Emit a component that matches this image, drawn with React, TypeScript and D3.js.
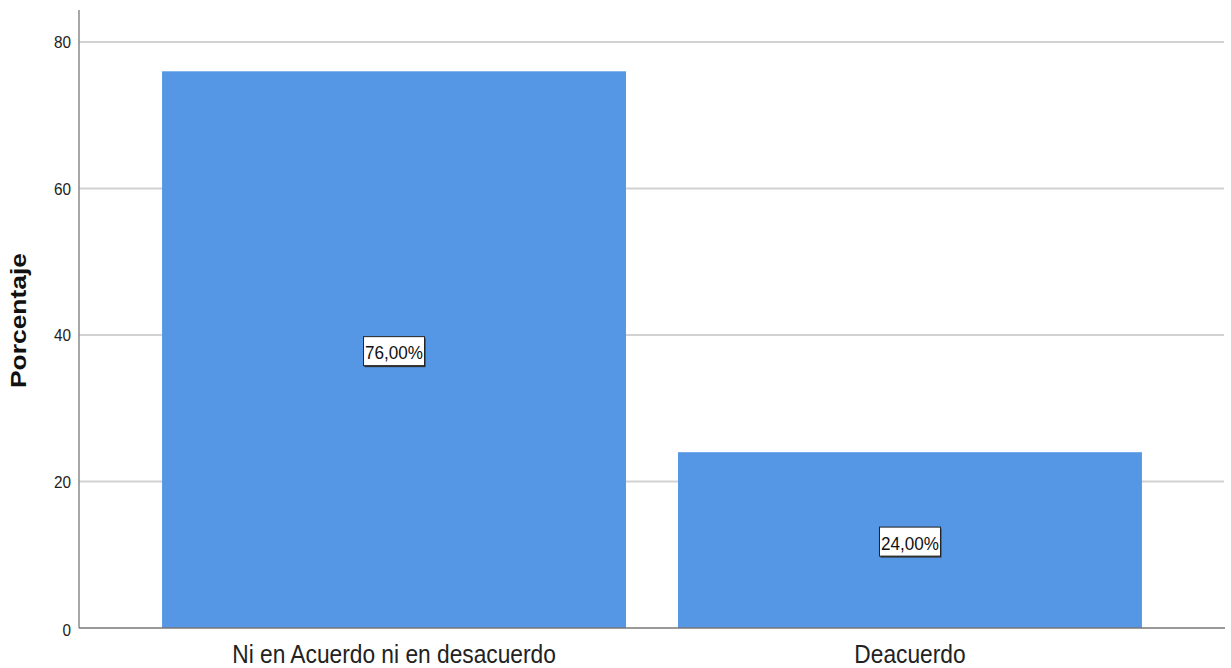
import React from "react";
import * as d3 from "d3";

const categories = ["Ni en Acuerdo ni en desacuerdo", "Deacuerdo"];
const percentages = [76, 24];
const valueLabels = ["76,00%", "24,00%"];
const yTicks = [0, 20, 40, 60, 80];

export default function App() {
  const width = 1231;
  const height = 668;
  const x0 = 79, x1 = 1225, yTop = 10, y0 = 628;
  const y = d3.scaleLinear().domain([0, 80]).range([y0, 42]);
  const x = d3
    .scaleBand<string>()
    .domain(categories)
    .range([x0, x1])
    .paddingInner(0.1008)
    .paddingOuter(0.161);
  const font = "'Liberation Sans', Arial, sans-serif";
  return (
    <svg
      width={width}
      height={height}
      style={{ position: "absolute", left: 0, top: 0, background: "#fff" }}
      fontFamily={font}
    >
      {yTicks.filter((t) => t > 0).map((t) => (
        <line key={t} x1={x0} x2={x1 - 1} y1={y(t)} y2={y(t)} stroke="#d2d2d2" strokeWidth={2} />
      ))}
      {categories.map((c, i) => (
        <rect
          key={c}
          x={x(c)!}
          y={y(percentages[i])}
          width={x.bandwidth()}
          height={y0 - y(percentages[i])}
          fill="#5596e5"
        />
      ))}
      <line x1={x0} x2={x0} y1={yTop} y2={y0} stroke="#8a8a8a" strokeWidth={1.5} />
      <line x1={x0} x2={x1} y1={y0} y2={y0} stroke="#777" strokeWidth={1.5} />
      {yTicks.map((t) => {
        const tx = x0 - 8;
        return (
          <text
            key={t}
            x={tx}
            y={y(t) + (t === 0 ? 2 : 0)}
            dy="0.36em"
            textAnchor="end"
            fontSize={17}
            fill="#222"
            transform={`translate(${tx},0) scale(0.9,1) translate(${-tx},0)`}
          >
            {t}
          </text>
        );
      })}
      {categories.map((c) => {
        const cx = x(c)! + x.bandwidth() / 2;
        return (
          <text
            key={c}
            x={cx}
            y={y0 + 35}
            textAnchor="middle"
            fontSize={25}
            fill="#222"
            transform={`translate(${cx},0) scale(0.91,1) translate(${-cx},0)`}
          >
            {c}
          </text>
        );
      })}
      <text
        transform={`translate(26,${320.5}) rotate(-90)`}
        textAnchor="middle"
        fontSize={22}
        fontWeight="bold"
        fill="#111"
        textLength={135}
        lengthAdjust="spacingAndGlyphs"
      >
        Porcentaje
      </text>
      {categories.map((c, i) => {
        const cx = x(c)! + x.bandwidth() / 2;
        const cy = y(percentages[i] / 2) + 1.5;
        const w = 61, h = 29;
        return (
          <g key={c}>
            <rect x={cx - w / 2 + 1} y={cy - h / 2 + 1.5} width={w} height={h} fill="#333" />
            <rect x={cx - w / 2} y={cy - h / 2} width={w} height={h} fill="#fff" stroke="#222" strokeWidth={1} />
            <text x={cx} y={cy + 2} dy="0.35em" textAnchor="middle" fontSize={18} fill="#111"
              transform={`translate(${cx},0) scale(0.95,1) translate(${-cx},0)`}>
              {valueLabels[i]}
            </text>
          </g>
        );
      })}
    </svg>
  );
}
